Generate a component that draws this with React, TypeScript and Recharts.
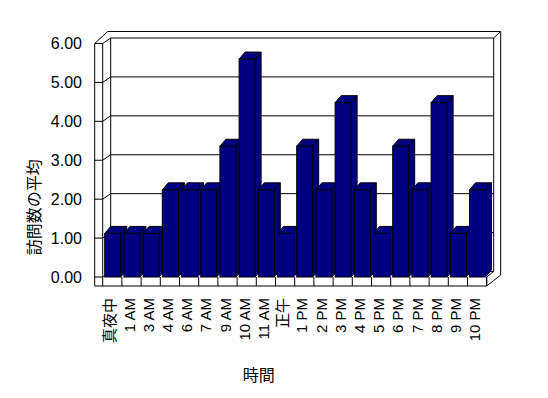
import { BarChart, Bar, XAxis, YAxis, CartesianGrid } from "recharts";

const hours = [
  "真夜中", "1 AM", "3 AM", "4 AM", "6 AM", "7 AM", "9 AM", "10 AM", "11 AM", "正午",
  "1 PM", "2 PM", "3 PM", "4 PM", "5 PM", "6 PM", "7 PM", "8 PM", "9 PM", "10 PM",
];
const avgVisits = [
  1.12, 1.12, 1.12, 2.24, 2.24, 2.24, 3.36, 5.6, 2.24, 1.12,
  3.36, 2.24, 4.48, 2.24, 1.12, 3.36, 2.24, 4.48, 1.12, 2.24,
];
const yTicks = [0, 1, 2, 3, 4, 5, 6];

const data = hours.map((hour, i) => ({ hour, value: avgVisits[i] }));

const FONT = '"Liberation Sans", Arial, "Noto Sans CJK JP", sans-serif';
const CJK_FONT = '"Noto Sans CJK JP", "Liberation Sans", sans-serif';
const NAVY = "#000080";

// depth of the walls / bars in the fake 3D projection
const WALL_DX = 8;
const WALL_DY = 5.5;
const BAR_DX = 6;
const BAR_DY = 7;
const FLOOR_H = 9;

function Bar3D(props: any) {
  const { x, y, width, height } = props;
  if (!height) return null;
  const r = x + width;
  return (
    <g stroke="#000" strokeWidth={1} fill={NAVY}>
      <polygon points={`${x},${y} ${x + BAR_DX},${y - BAR_DY} ${r + BAR_DX},${y - BAR_DY} ${r},${y}`} />
      <polygon points={`${r},${y} ${r + BAR_DX},${y - BAR_DY} ${r + BAR_DX},${y + height - BAR_DY} ${r},${y + height}`} />
      <rect x={x} y={y} width={width} height={height} />
    </g>
  );
}

function WallLine(props: any) {
  const { x1, x2, y1, y, height } = props;
  const L = x1;
  const R = x2;
  const T = y;
  const B = y + height;
  const wy = y1 - WALL_DY;
  const isTop = Math.abs(y1 - T) < 1;
  const isBottom = Math.abs(y1 - B) < 1;
  return (
    <g stroke="#000" strokeWidth={1} fill="none">
      <polyline points={`${L - WALL_DX},${y1} ${L},${y1} ${L + WALL_DX},${wy} ${R + 7},${wy}`} />
      {isTop && (
        <g>
          {/* side wall front face */}
          <line x1={L - WALL_DX} y1={T} x2={L - WALL_DX} y2={B + FLOOR_H} />
          <line x1={L} y1={T} x2={L} y2={B} />
          <line x1={L + WALL_DX} y1={wy} x2={L + WALL_DX} y2={B - WALL_DY} />
          {/* top edges */}
          <polyline points={`${L - WALL_DX},${T} ${L + 5},${T - 12} ${R + 14},${T - 12} ${R + 7},${wy}`} />
          {/* right edges of the back wall */}
          <line x1={R + 7} y1={wy} x2={R + 7} y2={B - WALL_DY} />
          <line x1={R + 14} y1={T - 12} x2={R + 14} y2={B - 2} />
        </g>
      )}
      {isBottom && (
        <g>
          <line x1={L - WALL_DX} y1={B + FLOOR_H} x2={R} y2={B + FLOOR_H} />
          <line x1={R} y1={B} x2={R} y2={B + FLOOR_H} />
          <line x1={R} y1={B + FLOOR_H} x2={R + 14} y2={B - 2} />
          <line x1={R} y1={B} x2={R + 7} y2={B - WALL_DY} />
        </g>
      )}
    </g>
  );
}

function HourTick(props: any) {
  const { x, y, payload, width, visibleTicksCount, index } = props;
  const band = width && visibleTicksCount ? width / visibleTicksCount : (payload?.offset ?? 9.6) * 2;
  const left = x - band / 2;
  const tx = x + 3;
  const ty = y + 21;
  return (
    <g>
      <line x1={left} y1={y} x2={left} y2={y + FLOOR_H} stroke="#000" />
      {index === visibleTicksCount - 1 && (
        <line x1={left + band} y1={y} x2={left + band} y2={y + FLOOR_H} stroke="#000" />
      )}
      <text
        x={tx}
        y={ty}
        transform={`rotate(-90 ${tx} ${ty})`}
        textAnchor="end"
        fontSize={15}
        fontFamily={FONT}
        fill="#000"
      >
        {payload.value}
      </text>
    </g>
  );
}

export default function App() {
  return (
    <div style={{ position: "absolute", left: 0, top: 0, width: 548, height: 398, background: "#fff" }}>
      <BarChart
        width={548}
        height={398}
        data={data}
        margin={{ top: 43.5, right: 61.3, bottom: 0, left: 42.7 }}
      >
        <CartesianGrid vertical={false} horizontal={(p: any) => <WallLine {...p} />} />
        <XAxis
          dataKey="hour"
          interval={0}
          height={121}
          tickLine={false}
          axisLine={false}
          tickSize={0}
          tickMargin={0}
          tick={<HourTick />}
          label={{
            content: (p: any) => {
              const vb = p.viewBox;
              return (
                <text
                  x={vb.x + vb.width / 2 - 36}
                  y={vb.y + vb.height - 17}
                  textAnchor="middle"
                  fontSize={16}
                  fontFamily={CJK_FONT}
                  fill="#000"
                >
                  時間
                </text>
              );
            },
          }}
        />
        <YAxis
          domain={[0, 6]}
          ticks={yTicks}
          interval={0}
          width={60}
          tickLine={false}
          axisLine={false}
          tickSize={0}
          tickMargin={20.7}
          tickFormatter={(v: number) => v.toFixed(2)}
          tick={{ fontSize: 16, fill: "#000", fontFamily: FONT }}
          label={{
            content: (p: any) => {
              const vb = p.viewBox;
              const cx = vb.x - 10;
              const cy = vb.y + vb.height / 2 + 47;
              return (
                <text
                  x={cx}
                  y={cy}
                  transform={`rotate(-90 ${cx} ${cy})`}
                  textAnchor="middle"
                  dominantBaseline="central"
                  fontSize={16}
                  fontFamily={CJK_FONT}
                  fill="#000"
                >
                  訪問数の平均
                </text>
              );
            },
          }}
        />
        <Bar dataKey="value" barSize={16} shape={<Bar3D />} isAnimationActive={false} />
      </BarChart>
    </div>
  );
}
